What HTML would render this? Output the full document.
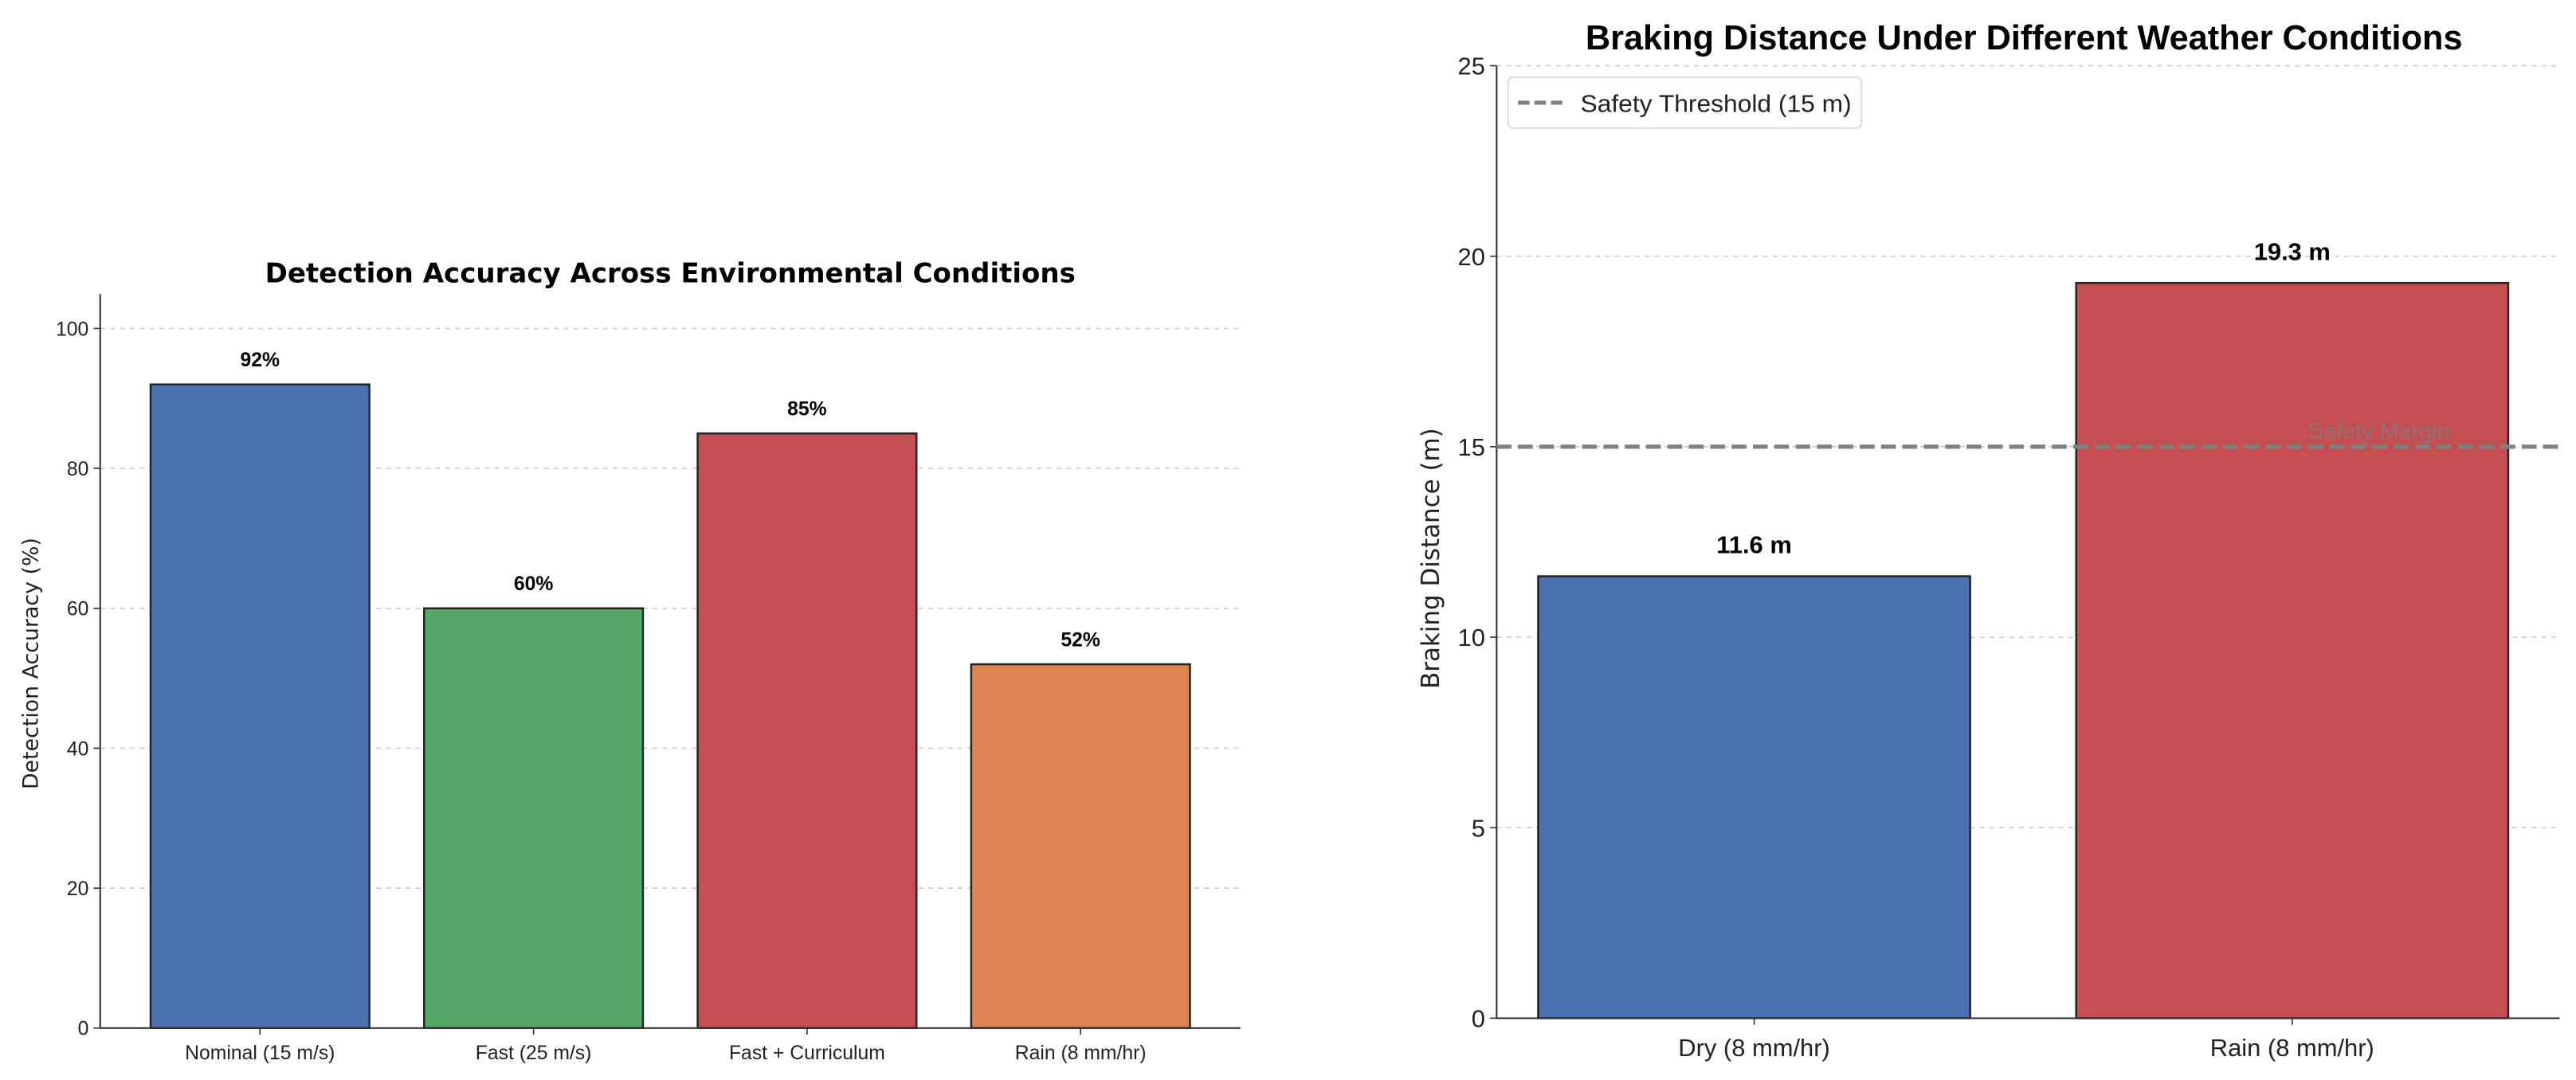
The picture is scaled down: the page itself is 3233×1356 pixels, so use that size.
<!DOCTYPE html>
<html><head><meta charset="utf-8"><style>
html,body{margin:0;padding:0;background:#fff;}
svg{display:block;font-family:"Liberation Sans",sans-serif;}
</style></head><body>
<svg id="svg" width="3233" height="1356" viewBox="0 0 1568 657.6" xmlns="http://www.w3.org/2000/svg"></svg>
<script>
const accCategories = ["Nominal (15 m/s)", "Fast (25 m/s)", "Fast + Curriculum", "Rain (8 mm/hr)"];
const accValues = [92, 60, 85, 52];
const accColors = ["#4c72b0", "#55a868", "#c44e52", "#dd8452"];
const accTicks = [0, 20, 40, 60, 80, 100];
const brkCategories = ["Dry (8 mm/hr)", "Rain (8 mm/hr)"];
const brkValues = [11.6, 19.3];
const brkColors = ["#4c72b0", "#c44e52"];
const brkTicks = [0, 5, 10, 15, 20, 25];
const threshold = 15;

const NS = "http://www.w3.org/2000/svg";
const svg = document.getElementById("svg");
function mk(tag, attrs, parent, text) {
  const e = document.createElementNS(NS, tag);
  for (const k in attrs) e.setAttribute(k, attrs[k]);
  if (text !== undefined) e.textContent = text;
  (parent || svg).appendChild(e);
  return e;
}

function drawChart(cfg) {
  const g = mk("g", {});
  
  
  const y = v => cfg.y0 - v / cfg.ymax * (cfg.y0 - cfg.yTop);
  const n = cfg.cats.length;
  const step = (cfg.xR - cfg.xL) / n;
  const bw = step * cfg.barFrac;
  const x = i => cfg.xL + step * (i + 0.5);
  cfg.ticks.forEach(t => {
    const gl = mk("line", {x1: cfg.spineX, x2: cfg.axisEnd, y1: y(t), y2: y(t), stroke: "#cccccc", "stroke-width": 0.8, "stroke-dasharray": "3,3"}, g);
    
    
    mk("line", {x1: cfg.spineX - 4, x2: cfg.spineX, y1: y(t), y2: y(t), stroke: "#333", "stroke-width": 0.8}, g);
    const tl = mk("text", {x: cfg.spineX - 7, y: y(t) + cfg.tickFs * 0.36, "text-anchor": "end", "font-size": cfg.tickFs, fill: "#222"}, g, String(t));
    
    
  });
  cfg.vals.forEach((v, i) => {
    const b = mk("rect", {x: x(i) - bw / 2, y: y(v), width: bw, height: y(0) - y(v), fill: cfg.colors[i], stroke: "#222", "stroke-width": 1.2}, g);
    
    
    const vl = mk("text", {x: x(i), y: y(v) - cfg.labOff, "text-anchor": "middle", "font-size": cfg.valFs, "font-weight": "bold", fill: "#000"}, g, cfg.fmt(v));
    
    
    mk("line", {x1: x(i), x2: x(i), y1: y(0), y2: y(0) + 4, stroke: "#333", "stroke-width": 0.8}, g);
    const xl = mk("text", {x: x(i), y: y(0) + cfg.xlabOff, "text-anchor": "middle", "font-size": cfg.tickFs, fill: "#222"}, g, cfg.cats[i]);
    
    
  });
  const ls = mk("line", {x1: cfg.spineX, x2: cfg.spineX, y1: cfg.spineTop, y2: y(0), stroke: "#333", "stroke-width": 1}, g);
  
  
  const bs = mk("line", {x1: cfg.spineX, x2: cfg.axisEnd, y1: y(0), y2: y(0), stroke: "#333", "stroke-width": 1}, g);
  
  
  const tt = mk("text", {x: cfg.titleX, y: cfg.titleY, "text-anchor": "middle", "font-size": cfg.titleFs, "font-weight": "bold", fill: "#000", "font-family": cfg.titleFont}, g, cfg.title);
  
  
  const yl = mk("text", {x: 0, y: 0, transform: `translate(${cfg.ylabX},${cfg.ylabY}) rotate(-90)`, "text-anchor": "middle", "font-size": cfg.ylabFs, fill: "#222", "font-family": "DejaVu Sans, sans-serif"}, g, cfg.ylabel);
  
  
  return {g, y};
}

drawChart({
  name: "detection-accuracy-chart", cats: accCategories, vals: accValues, colors: accColors, ticks: accTicks,
  ymax: 100, y0: 626, yTop: 200, spineX: 61, spineTop: 179, axisEnd: 755,
  xL: 75, xR: 741, barFrac: 0.8, tickFs: 12, valFs: 12, labOff: 11, xlabOff: 19,
  fmt: v => v + "%", title: "Detection Accuracy Across Environmental Conditions", titleX: 408, titleY: 172,
  titleFs: 16.5, titleFont: "DejaVu Sans, sans-serif", ylabel: "Detection Accuracy (%)", ylabX: 23, ylabY: 404, ylabFs: 13
});

const r = drawChart({
  name: "braking-distance-chart", cats: brkCategories, vals: brkValues, colors: brkColors, ticks: brkTicks,
  ymax: 25, y0: 620, yTop: 40, spineX: 911, spineTop: 40, axisEnd: 1558,
  xL: 904, xR: 1559, barFrac: 0.803, tickFs: 15, valFs: 15, labOff: 14, xlabOff: 23,
  fmt: v => v.toFixed(1) + " m", title: "Braking Distance Under Different Weather Conditions", titleX: 1232, titleY: 30,
  titleFs: 21, titleFont: "Liberation Sans, sans-serif", ylabel: "Braking Distance (m)", ylabX: 876, ylabY: 340, ylabFs: 15
});
const th = mk("line", {x1: 911, x2: 1558, y1: r.y(threshold), y2: r.y(threshold), stroke: "#808080", "stroke-width": 2.5, "stroke-dasharray": "9,4"}, r.g);


const sm = mk("text", {x: 1448, y: r.y(threshold) - 5, "text-anchor": "middle", "font-size": 14, fill: "#808080", "fill-opacity": 0.7}, r.g, "Safety Margin");


const lg = mk("g", {}, r.g);


mk("rect", {x: 918, y: 47, width: 215, height: 31, rx: 3, fill: "#fff", stroke: "#dddddd", "stroke-width": 1}, lg);
mk("line", {x1: 924, x2: 952, y1: 62.5, y2: 62.5, stroke: "#808080", "stroke-width": 2.5, "stroke-dasharray": "7,3"}, lg);
const le = mk("text", {x: 962, y: 68, "font-size": 15, fill: "#222", textLength: 165, lengthAdjust: "spacingAndGlyphs"}, lg, "Safety Threshold (15 m)");


</script>
</body></html>
